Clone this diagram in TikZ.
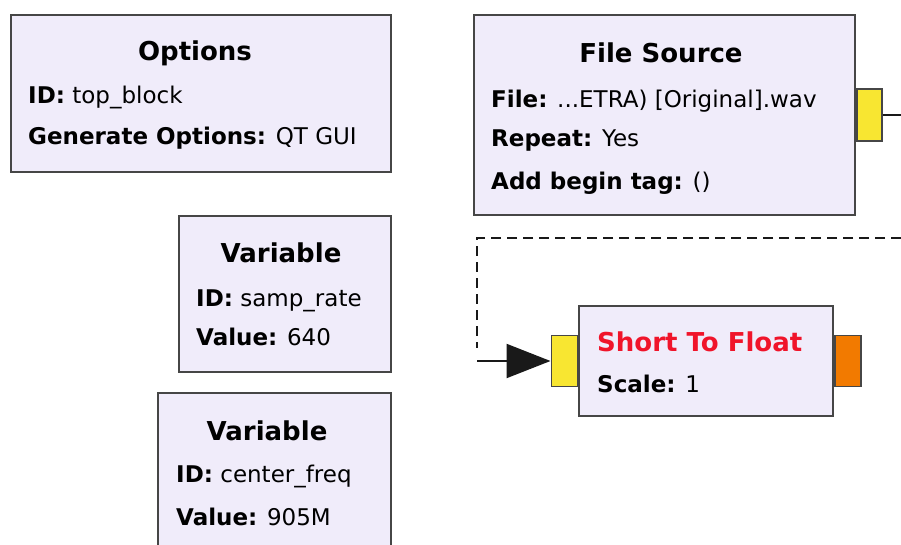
\documentclass[tikz,border=0pt]{standalone}
\usepackage{fontspec}
\setmainfont{DejaVu Sans}
\usetikzlibrary{arrows.meta}
\definecolor{blockfill}{HTML}{F0ECFA}
\definecolor{blockline}{HTML}{464646}
\definecolor{portyellow}{HTML}{F8E631}
\definecolor{portorange}{HTML}{F27A00}
\definecolor{titlered}{HTML}{F0142A}
\begin{document}
\begin{tikzpicture}[x=1pt,y=-1pt,
  block/.style={draw=blockline,fill=blockfill,line width=2.2pt,inner sep=0pt},
  port/.style={draw=blockline,line width=1.4pt,inner sep=0pt},
  title/.style={font=\fontsize{26}{26}\selectfont\bfseries,anchor=base,inner sep=0pt},
  prop/.style={font=\fontsize{23}{23}\selectfont,anchor=base west,inner sep=0pt},
  wire/.style={line width=2.2pt,draw=black!90}]
\useasboundingbox (0,0) rectangle (901,545);

% Options block
\node[block,minimum width=380pt,minimum height=157pt] (opt) at (201,93.5) {};
\node[title] (optT) at (195,61) {Options};
\node[prop] (optA) at (28,104) {\textbf{ID:} top\_block};
\node[prop] (optB) at (28,145) {\textbf{Generate Options:} QT GUI};

% File source block and its output port
\node[block,minimum width=381pt,minimum height=200pt] (fs) at (664.5,115) {};
\node[port,fill=portyellow,minimum width=25pt,minimum height=52pt,anchor=west] (fsout) at (fs.east) {};
\node[title] (fsT) at (661,63) {File Source};
\node[prop] (fsA) at (491,108) {\textbf{File:} ...ETRA) [Original].wav};
\node[prop] (fsB) at (491,147) {\textbf{Repeat:} Yes};
\node[prop] (fsC) at (491,190) {\textbf{Add begin tag:} ()};

% Variable blocks
\node[block,minimum width=212pt,minimum height=156pt] (var1) at (285,294) {};
\node[title] (v1T) at (281,262) {Variable};
\node[prop] (v1A) at (196,306) {\textbf{ID:} samp\_rate};
\node[prop] (v1B) at (196,345) {\textbf{Value:} 640};

\node[block,minimum width=233pt,minimum height=170pt] (var2) at (274.5,478) {};
\node[title] (v2T) at (267,440) {Variable};
\node[prop] (v2A) at (176,482) {\textbf{ID:} center\_freq};
\node[prop] (v2B) at (176,525) {\textbf{Value:} 905M};

% Short to float block with its ports
\node[block,minimum width=254pt,minimum height=110pt] (sf) at (706,361) {};
\node[port,fill=portyellow,minimum width=26pt,minimum height=51pt,anchor=east] (sfin) at (sf.west) {};
\node[port,fill=portorange,minimum width=26pt,minimum height=51pt,anchor=west] (sfout) at (sf.east) {};
\node[title,anchor=base west,text=titlered] (sfT) at (597,351) {Short To Float};
\node[prop] (sfA) at (597,392) {\textbf{Scale:} 1};

% Connection from the file source to the converter
\coordinate (edgeA) at (901,115);
\coordinate (edgeB) at (901,238);
\coordinate (turn) at (477,348);
\draw[wire] (fsout.east) -- (edgeA);
\draw[wire,dash pattern=on 10pt off 6pt] (edgeB) -| (turn);
\draw[wire,-{Triangle[length=44pt,width=34pt]}] (turn |- sfin.west) -- (sfin.west);
\end{tikzpicture}
\end{document}
